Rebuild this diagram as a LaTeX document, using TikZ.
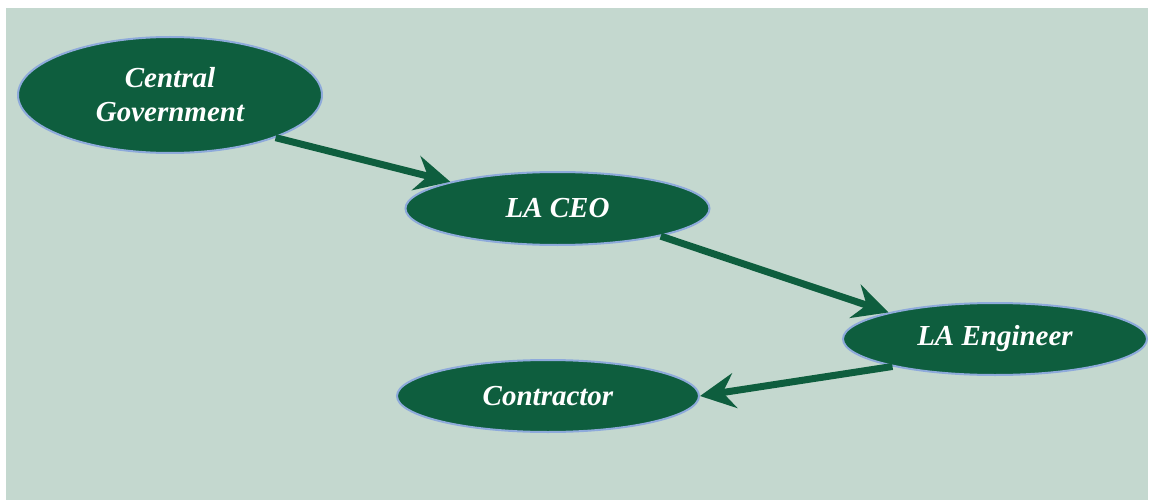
\documentclass[tikz,border=0pt]{standalone}
\usepackage{fontspec}
\setmainfont{Liberation Serif}
\usetikzlibrary{shapes.geometric,arrows.meta}

\definecolor{panel}{RGB}{196,216,207}
\definecolor{nodegreen}{RGB}{14,94,62}
\definecolor{rim}{RGB}{142,170,219}

\tikzset{
  role/.style={ellipse, draw=rim, line width=2pt, fill=nodegreen,
    inner sep=0pt, text=white, align=center,
    font=\fontsize{29}{34}\selectfont\bfseries\itshape},
  flow/.style={draw=nodegreen, line width=7pt,
    -{Stealth[length=35pt, width=35pt, inset=12pt]}}
}

\begin{document}
\begin{tikzpicture}[x=1pt, y=-1pt]
  \useasboundingbox (0,0) rectangle (1151,500);
  \fill[panel] (6,8) rectangle (1148,500);

  \node[role, minimum width=304pt, minimum height=116pt] (gov) at (170,95)
    {Central\\Government};
  \node[role, minimum width=304pt, minimum height=73pt] (ceo) at (557.5,208.5)
    {LA CEO};
  \node[role, minimum width=304pt, minimum height=72pt] (eng) at (995,339)
    {LA Engineer};
  \node[role, minimum width=302pt, minimum height=72pt] (con) at (548,396)
    {Contractor};

  \draw[flow] (gov.-22) -- (ceo.166);
  \draw[flow] (ceo.-15) -- (eng.166);
  \draw[flow] (eng.-165) -- (con.0);
\end{tikzpicture}
\end{document}
